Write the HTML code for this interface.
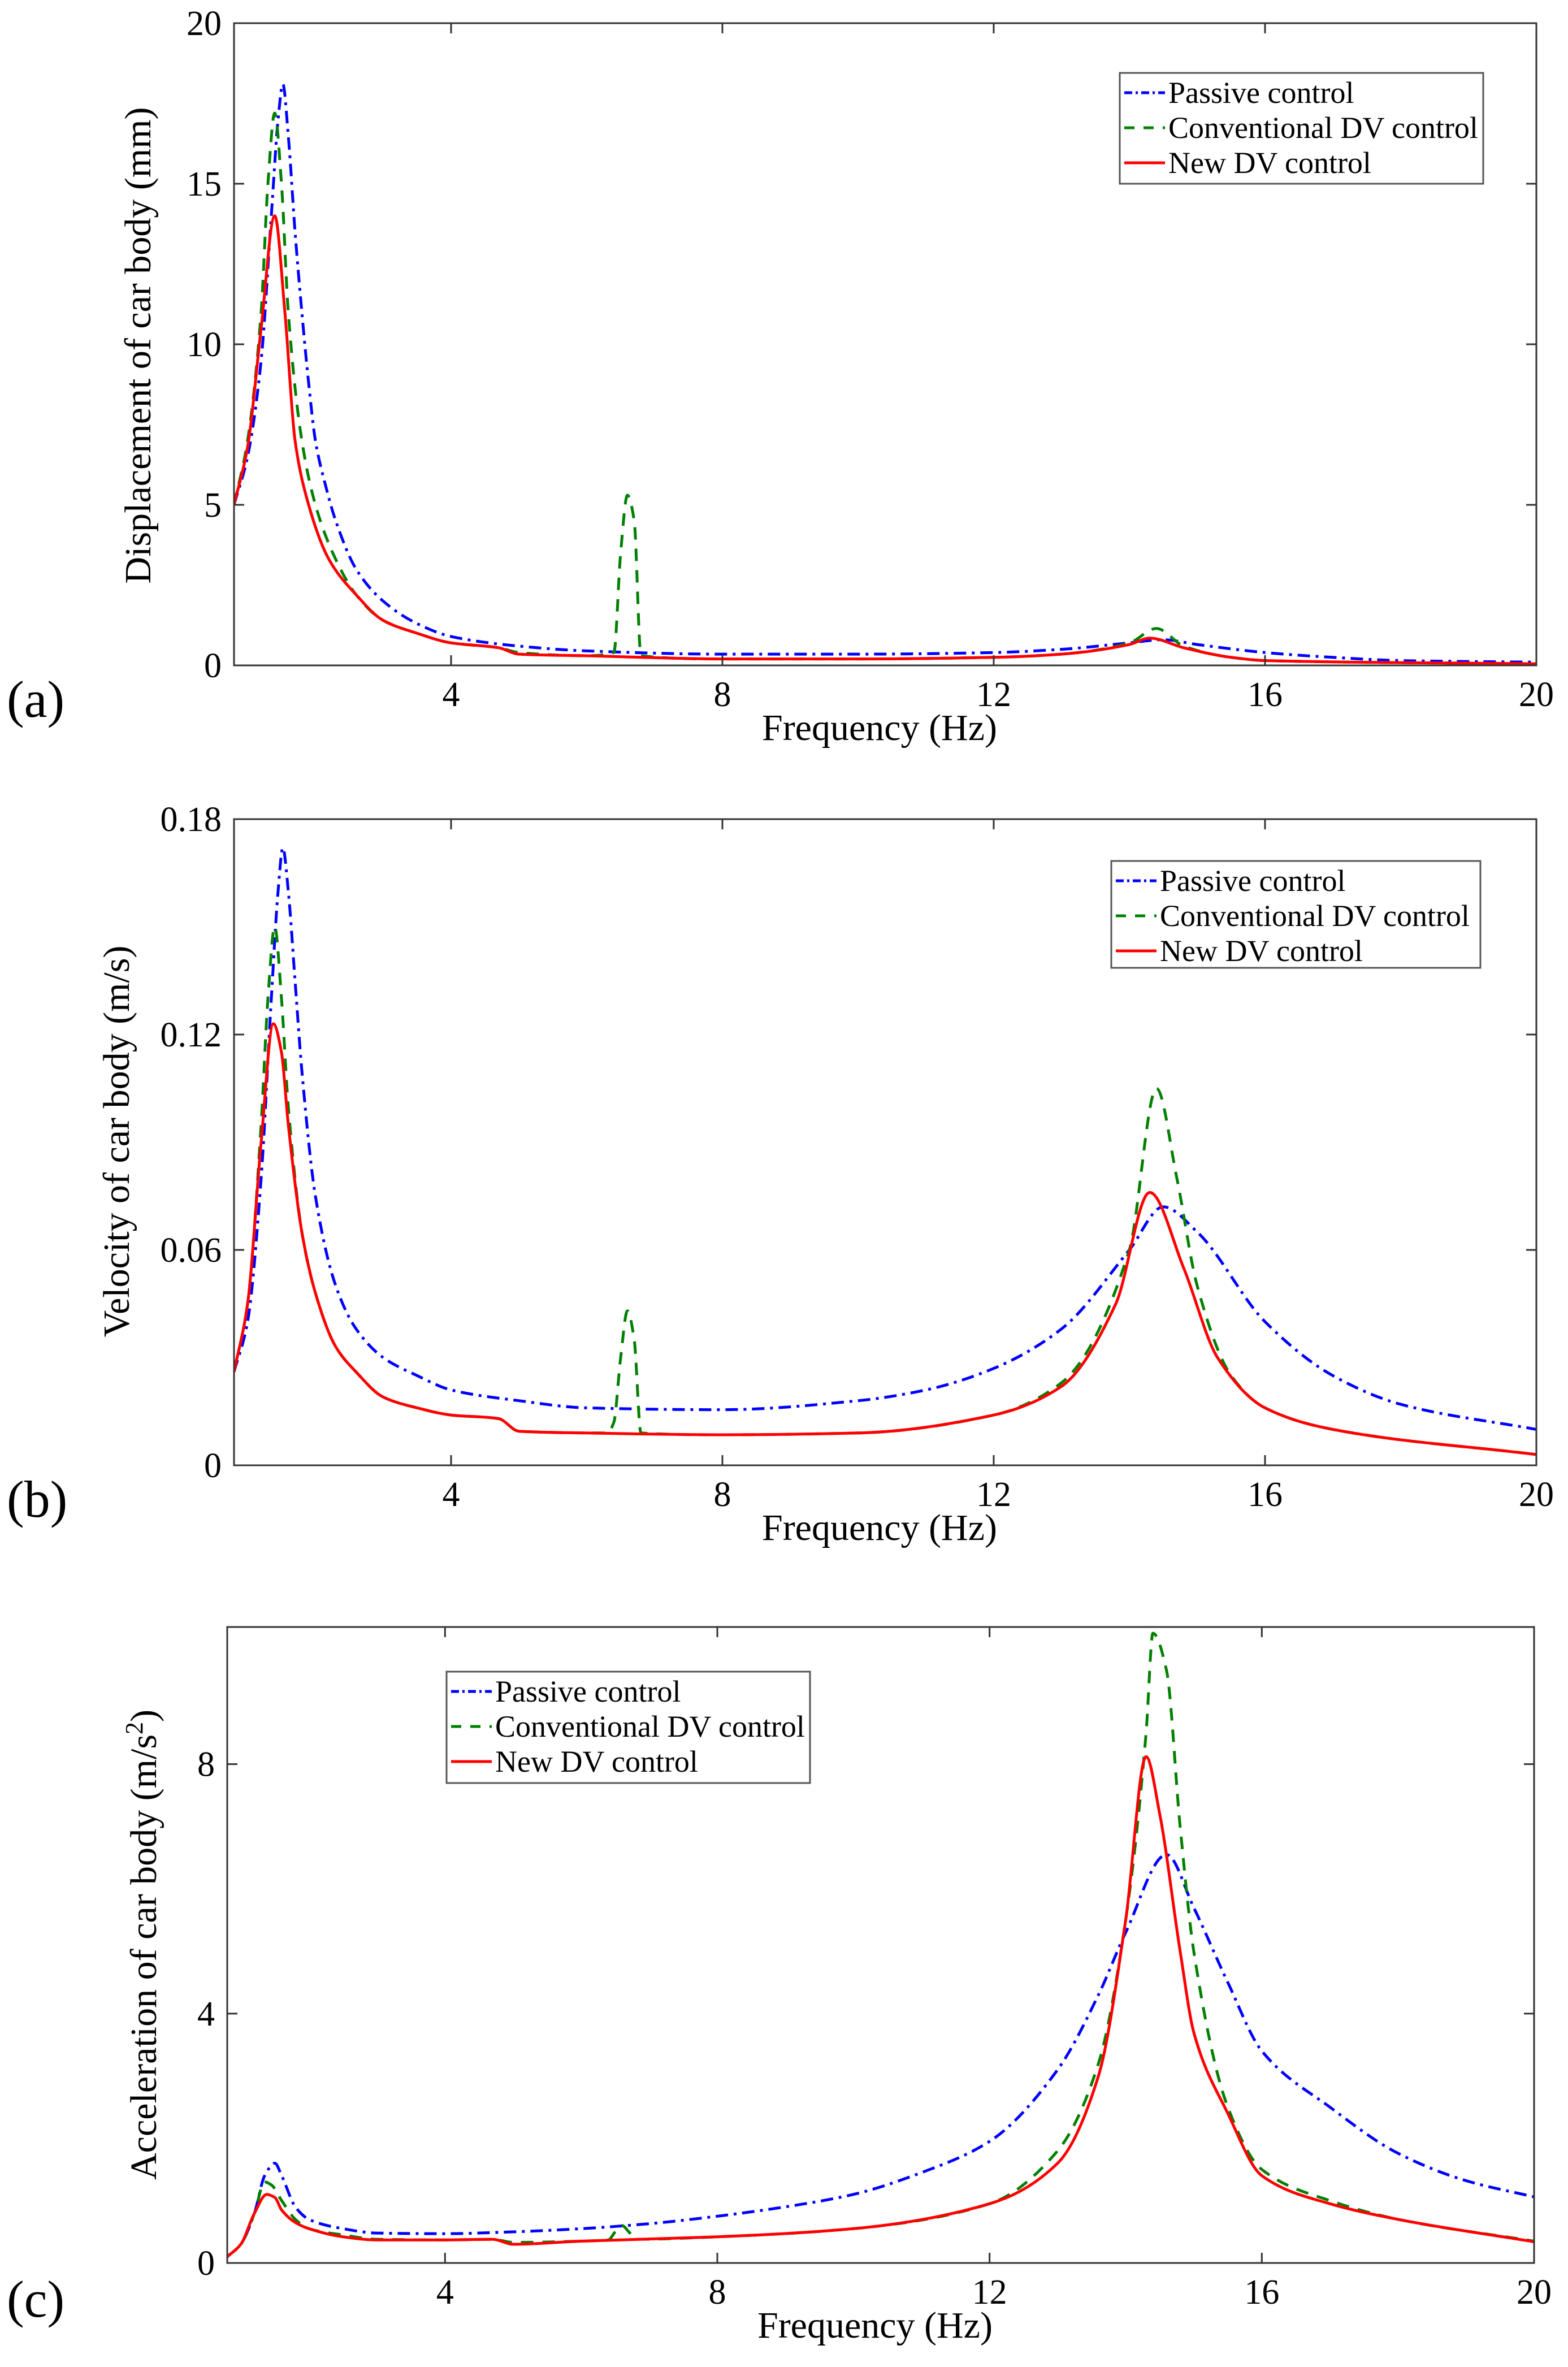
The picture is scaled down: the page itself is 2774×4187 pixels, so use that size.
<!DOCTYPE html>
<html><head><meta charset="utf-8">
<style>
html,body{margin:0;padding:0;background:#fff;}
svg{display:block;}
text{font-family:"Liberation Serif",serif;fill:#000;}
</style></head>
<body>
<svg id="fig" width="2774" height="4187" viewBox="0 0 2774 4187" xmlns="http://www.w3.org/2000/svg"></svg>
<script>
// ---------- Panel (a): displacement ----------
const aPassiveF = [0.8,1.0,1.2,1.35,1.45,1.52,1.6,1.7,1.8,1.9,2.0,2.15,2.3,2.6,3.0,3.5,4,5,6,8,10,12,13,14,14.5,15,16,17,18,20];
const aPassiveV = [5,6.5,9.5,14,17,18.1,16.5,13.5,11,8.8,7,5.6,4.5,3.0,2.0,1.3,0.9,0.6,0.45,0.35,0.35,0.4,0.5,0.7,0.8,0.65,0.4,0.25,0.15,0.1];
const aConvF = [0.8,1.0,1.2,1.3,1.4,1.5,1.6,1.8,2.0,2.3,2.6,3,3.5,4,4.7,5,6,6.4,6.5,6.6,6.7,6.8,8,10,12,13,14,14.4,14.8,15.5,16,20];
const aConvV = [5,7,11,15,17.2,15,11,7,5,3.3,2.2,1.4,1.0,0.7,0.55,0.4,0.3,0.4,3.5,5.3,4.5,0.3,0.2,0.2,0.25,0.35,0.7,1.15,0.6,0.25,0.15,0.05];
const aNewF = [0.8,1.0,1.2,1.4,1.55,1.7,1.9,2.2,2.6,3,3.5,4,4.7,5,6,8,10,12,13,14,14.3,14.8,15.5,16,20];
const aNewV = [5,6.8,10.5,14,11,7,5,3.3,2.2,1.4,1.0,0.7,0.55,0.35,0.3,0.2,0.2,0.25,0.35,0.65,0.85,0.55,0.25,0.15,0.05];
const aYTicks = [0,5,10,15,20];

// ---------- Panel (b): velocity ----------
const bPassiveF = [0.8,1.0,1.2,1.35,1.45,1.52,1.6,1.7,1.8,2.0,2.3,2.6,3,3.5,4,5,6,8,10,11,12,13,14,14.5,15,16,17,18,20];
const bPassiveV = [0.026,0.04,0.08,0.13,0.16,0.172,0.16,0.135,0.11,0.075,0.05,0.038,0.03,0.025,0.021,0.018,0.016,0.0155,0.018,0.021,0.027,0.038,0.06,0.072,0.065,0.04,0.025,0.017,0.01];
const bConvF = [0.8,1.0,1.2,1.3,1.4,1.5,1.6,1.8,2.0,2.3,2.6,3,3.5,4,4.7,5,6.3,6.4,6.5,6.6,6.7,6.8,8,10,12,13,14,14.4,14.7,15,15.5,16,17,20];
const bConvV = [0.026,0.045,0.095,0.13,0.15,0.13,0.1,0.065,0.048,0.033,0.026,0.019,0.016,0.014,0.013,0.0095,0.009,0.012,0.03,0.043,0.035,0.009,0.0085,0.009,0.014,0.023,0.06,0.105,0.08,0.05,0.025,0.016,0.01,0.003];
const bNewF = [0.8,1.0,1.2,1.38,1.5,1.6,1.8,2.0,2.3,2.6,3,3.5,4,4.7,5,6,8,10,12,13,13.8,14.3,14.8,15.3,16,17,20];
const bNewV = [0.026,0.045,0.09,0.123,0.115,0.095,0.065,0.048,0.033,0.026,0.019,0.016,0.014,0.013,0.0095,0.009,0.0085,0.009,0.014,0.022,0.045,0.076,0.055,0.03,0.016,0.01,0.003];
const bYTicks = [0,0.06,0.12,0.18];

// ---------- Panel (c): acceleration ----------
const cPassiveF = [0.8,1.0,1.2,1.35,1.5,1.6,1.8,2.0,2.5,3,4,5,6,7,8,9,10,11,12,13,13.6,14,14.6,15,15.5,16,17,18,19,20];
const cPassiveV = [0.1,0.3,0.8,1.4,1.6,1.4,0.9,0.7,0.55,0.48,0.47,0.5,0.55,0.63,0.75,0.9,1.1,1.45,1.95,3.1,4.3,5.3,6.55,5.7,4.5,3.4,2.5,1.76,1.32,1.06];
const cConvF = [0.8,1.0,1.2,1.35,1.45,1.6,1.8,2.0,2.5,3,4,4.7,5,6,6.4,6.5,6.6,6.7,6.8,8,10,12,13,13.6,14,14.3,14.4,14.6,14.8,15,15.5,16,17,18,20];
const cConvV = [0.1,0.3,0.8,1.3,1.25,1.0,0.7,0.55,0.45,0.38,0.37,0.38,0.33,0.35,0.37,0.5,0.6,0.5,0.38,0.42,0.55,0.95,1.8,3.2,5.5,8.5,10.1,9.5,7.0,5.0,2.5,1.5,1.0,0.7,0.35];
const cNewF = [0.8,1.0,1.2,1.38,1.5,1.6,1.8,2.0,2.5,3,4,4.7,5,6,8,10,12,13,13.6,14,14.3,14.5,14.8,15,15.5,16,17,18,20];
const cNewV = [0.1,0.3,0.8,1.1,1.05,0.85,0.65,0.55,0.42,0.37,0.37,0.38,0.3,0.35,0.42,0.55,0.95,1.6,3.0,5.5,8.12,7.2,5.0,3.7,2.4,1.4,0.95,0.7,0.34];
const cYTicks = [0,4,8];

const xTicks = [4,8,12,16,20];

const NS = "http://www.w3.org/2000/svg";
const svg = document.getElementById('fig');
function mk(tag, attrs, parent){
  const e = document.createElementNS(NS, tag);
  for (const k in attrs) e.setAttribute(k, attrs[k]);
  (parent||svg).appendChild(e);
  return e;
}
const styles = {
  passive: {stroke:'#0000ff', dash:'22 10 5 10'},
  conv: {stroke:'#008000', dash:'22 16'},
  newdv: {stroke:'#ff0000', dash:''}
};
// monotone cubic (Fritsch-Carlson) path, no overshoot
function monoPath(pts){
  const n = pts.length;
  const dx = [], m = [], t = [];
  for (let i = 0; i < n-1; i++){ dx[i] = pts[i+1][0]-pts[i][0]; m[i] = (pts[i+1][1]-pts[i][1])/dx[i]; }
  t[0] = m[0]; t[n-1] = m[n-2];
  for (let i = 1; i < n-1; i++){
    if (m[i-1]*m[i] <= 0) t[i] = 0;
    else { const w1 = 2*dx[i]+dx[i-1], w2 = dx[i]+2*dx[i-1]; t[i] = (w1+w2)/(w1/m[i-1]+w2/m[i]); }
  }
  let d = 'M' + pts[0][0].toFixed(1) + ',' + pts[0][1].toFixed(1);
  for (let i = 0; i < n-1; i++){
    const h = dx[i]/3;
    d += 'C' + (pts[i][0]+h).toFixed(1)+','+(pts[i][1]+t[i]*h).toFixed(1)+' '+(pts[i+1][0]-h).toFixed(1)+','+(pts[i+1][1]-t[i+1]*h).toFixed(1)+' '+pts[i+1][0].toFixed(1)+','+pts[i+1][1].toFixed(1);
  }
  return d;
}

function panel(cfg){
  const g = mk('g', {});
  
  
  const L=cfg.L,R=cfg.R,T=cfg.T,B=cfg.B;
  const xs = f => L + (f - 0.8) / (20 - 0.8) * (R - L);
  const ys = v => B - v / cfg.ymax * (B - T);
  const clipId = 'clip-' + cfg.id;
  const defs = mk('defs', {}, g);
  const cp = mk('clipPath', {id: clipId}, defs);
  mk('rect', {x:L, y:T-4, width:R-L, height:B-T+4}, cp);
  cfg.series.forEach(s => {
    const st = styles[s.kind];
    const pts = s.f.map((f,i) => [xs(f), ys(s.v[i])]);
    const p = mk('path', {d:monoPath(pts), fill:'none', stroke:st.stroke, 'stroke-width':5, 'stroke-linejoin':'round', 'clip-path':'url(#'+clipId+')'}, g);
    if (st.dash) p.setAttribute('stroke-dasharray', st.dash);
    
    
  });
  const box = mk('rect', {x:L, y:T, width:R-L, height:B-T, fill:'none', stroke:'#333', 'stroke-width':3}, g);
  
  
  xTicks.forEach(t => {
    const x = xs(t);
    mk('line', {x1:x, y1:B, x2:x, y2:B-18, stroke:'#333','stroke-width':3}, g);
    mk('line', {x1:x, y1:T, x2:x, y2:T+18, stroke:'#333','stroke-width':3}, g);
    const tx = mk('text', {x:x, y:B+72, 'text-anchor':'middle','font-size':62}, g);
    tx.textContent = t;
    
    
  });
  cfg.yticks.forEach(t => {
    const y = ys(t);
    mk('line', {x1:L, y1:y, x2:L+18, y2:y, stroke:'#333','stroke-width':3}, g);
    mk('line', {x1:R, y1:y, x2:R-18, y2:y, stroke:'#333','stroke-width':3}, g);
    const ty = mk('text', {x:L-22, y:y+21, 'text-anchor':'end','font-size':62}, g);
    ty.textContent = t;
    
    
  });
  const xl = mk('text', {x:(L+R)/2 - 10, y:B+132, 'text-anchor':'middle','font-size':66}, g);
  xl.textContent = 'Frequency (Hz)';
  
  
  const yl = mk('text', {x:0, y:0, 'text-anchor':'middle','font-size':66, transform:'translate('+cfg.ylx+','+cfg.yly+') rotate(-90)'}, g);
  yl.innerHTML = cfg.ylabel;
  
  
  const pl = mk('text', {x:12, y:cfg.letterY, 'font-size':92}, g);
  pl.textContent = '(' + cfg.id + ')';
  
  
  const lg = mk('g', {}, g);
  
  
  const [lx,ly,lw,lh] = cfg.legend;
  mk('rect', {x:lx, y:ly, width:lw, height:lh, fill:'#fff', stroke:'#555','stroke-width':3}, lg);
  const names = [['passive','Passive control'],['conv','Conventional DV control'],['newdv','New DV control']];
  names.forEach((n,i) => {
    const cy = ly + 35 + i*62;
    const st = styles[n[0]];
    const ln = mk('line', {x1:lx+8, y1:cy, x2:lx+80, y2:cy, stroke:st.stroke,'stroke-width':5}, lg);
    if (st.dash) ln.setAttribute('stroke-dasharray', n[0]==='passive' ? '14 6 4 6' : '18 16');
    const tt = mk('text', {x:lx+86, y:cy+18, 'font-size':54}, lg);
    tt.textContent = n[1];
    
    
  });
}

panel({id:'a', L:414, R:2718, T:41, B:1177, ymax:20, yticks:aYTicks,
  ylabel:'Displacement of car body (mm)', ylx:266, yly:611, letterY:1268,
  legend:[1981,129,643,196],
  series:[{kind:'passive',f:aPassiveF,v:aPassiveV},{kind:'conv',f:aConvF,v:aConvV},{kind:'newdv',f:aNewF,v:aNewV}]});
panel({id:'b', L:414, R:2718, T:1449, B:2592, ymax:0.18, yticks:bYTicks,
  ylabel:'Velocity of car body (m/s)', ylx:228, yly:2019, letterY:2683,
  legend:[1966,1523,653,189],
  series:[{kind:'passive',f:bPassiveF,v:bPassiveV},{kind:'conv',f:bConvF,v:bConvV},{kind:'newdv',f:bNewF,v:bNewV}]});
panel({id:'c', L:402, R:2714, T:2878, B:4003, ymax:10.2, yticks:cYTicks,
  ylabel:'Acceleration of car body (m/s<tspan baseline-shift="super" font-size="44">2</tspan>)', ylx:276, yly:3440, letterY:4098,
  legend:[790,2957,643,197],
  series:[{kind:'passive',f:cPassiveF,v:cPassiveV},{kind:'conv',f:cConvF,v:cConvV},{kind:'newdv',f:cNewF,v:cNewV}]});
</script>
</body></html>
